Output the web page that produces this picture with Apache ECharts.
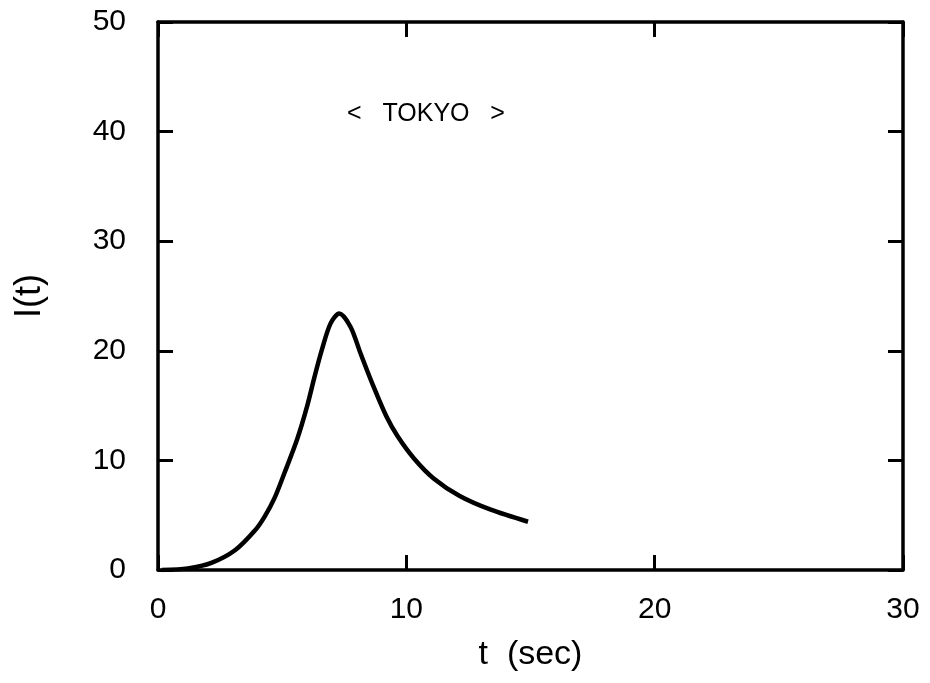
<!DOCTYPE html>
<html lang="en">
<head>
    <meta charset="UTF-8">
    <title>Tokyo I(t)</title>
    <script src="https://cdn.jsdelivr.net/npm/echarts@6/dist/echarts.min.js"></script>
    <style type="text/css">
        body{
            margin:0;
            background:#fff;
        }
    </style>
</head>
<body>
<div id="main" style="width: 930px;height:683px;"></div>
<script type="text/javascript">
    // values
    var tValues = [0.15, 1.2, 2.15, 3.1, 3.9, 4.3, 4.7, 5.1, 5.6, 6.0, 6.3, 6.6, 6.95, 7.3, 7.75, 8.15, 8.65, 9.2, 9.65, 10.3, 11.1, 12.15, 13.4, 14.9];
    var iValues = [0, 0.15, 0.65, 1.8, 3.6, 4.9, 6.6, 8.9, 11.9, 14.9, 17.6, 20.1, 22.5, 23.4, 22.2, 19.8, 16.9, 14.0, 12.2, 10.2, 8.35, 6.75, 5.5, 4.4];
    var xTicks = [0, 10, 20, 30];
    var yTicks = [0, 10, 20, 30, 40, 50];

    var points = [];
    for (var i = 0; i < tValues.length; i++) {
        points.push([tValues[i], iValues[i]]);
    }

    var font = 'Liberation Sans';
    var axisLine = {show: true, onZero: false, lineStyle: {color: '#000', width: 3.5}};
    var tick = {show: true, inside: true, length: 15, lineStyle: {color: '#000', width: 3}};

    var myChart = echarts.init(document.getElementById('main'));
    var option = {
        animation: false,
        grid: {left: 158, right: 27, top: 22, bottom: 113},
        graphic: [{
            type: 'text',
            left: 347,
            top: 102,
            style: {text: '<   TOKYO   >', font: '25px ' + font, fill: '#000'}
        }],
        xAxis: [{
            type: 'value', min: xTicks[0], max: xTicks[xTicks.length - 1], interval: 10,
            position: 'bottom',
            name: 't  (sec)', nameLocation: 'middle', nameGap: 68,
            nameTextStyle: {fontFamily: font, fontSize: 34, color: '#000'},
            axisLine: axisLine, axisTick: tick,
            axisLabel: {fontFamily: font, fontSize: 30, color: '#000', margin: 25},
            splitLine: {show: false}
        }, {
            type: 'value', min: xTicks[0], max: xTicks[xTicks.length - 1], interval: 10,
            position: 'top',
            axisLine: axisLine, axisTick: tick,
            axisLabel: {show: false}, splitLine: {show: false}
        }],
        yAxis: [{
            type: 'value', min: yTicks[0], max: yTicks[yTicks.length - 1], interval: 10,
            position: 'left',
            name: 'I(t)', nameLocation: 'middle', nameGap: 110,
            nameTextStyle: {fontFamily: font, fontSize: 36, color: '#000'},
            axisLine: axisLine, axisTick: tick,
            axisLabel: {fontFamily: font, fontSize: 30, color: '#000', margin: 32},
            splitLine: {show: false}
        }, {
            type: 'value', min: yTicks[0], max: yTicks[yTicks.length - 1], interval: 10,
            position: 'right',
            axisLine: axisLine, axisTick: tick,
            axisLabel: {show: false}, splitLine: {show: false}
        }],
        series: [{
            type: 'line',
            data: points,
            smooth: 0.3,
            showSymbol: false,
            lineStyle: {color: '#000', width: 4.5}
        }]
    };
    myChart.setOption(option);
</script>
</body>
</html>
